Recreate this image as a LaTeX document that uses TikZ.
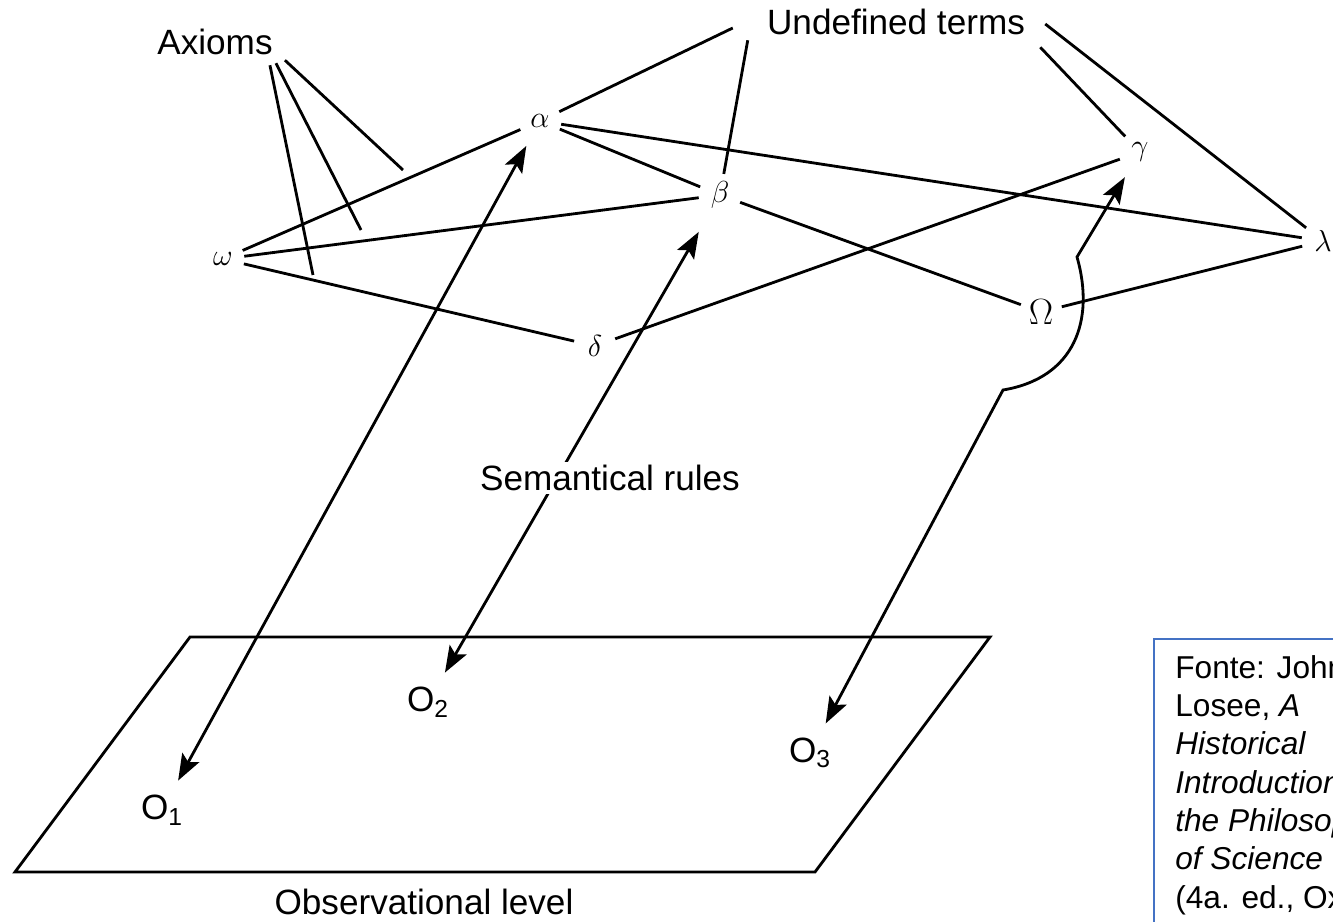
\documentclass[tikz,border=0pt]{standalone}
\usepackage[no-math]{fontspec}
\setmainfont{Liberation Sans}
\usepackage{xcolor}
\usetikzlibrary{arrows.meta}
\definecolor{capblue}{RGB}{68,114,196}

\begin{document}
\begin{tikzpicture}[
    x=0.02cm, y=-0.02cm,
    term/.style={circle, inner sep=0pt, minimum size=24pt, font=\fontsize{17.28}{20}\selectfont},
    heading/.style={inner sep=0pt, font=\fontsize{20}{24}\selectfont},
    obs/.style={inner sep=8pt, font=\fontsize{20}{24}\selectfont},
    link/.style={line width=1.6pt},
    semrule/.style={link, {Stealth[length=15pt,width=11pt,inset=3pt]}-{Stealth[length=15pt,width=11pt,inset=3pt]}}
]
    \useasboundingbox (0,0) rectangle (1333,922);

    % Headings
    \node (axioms) [heading] at (215,42) {Axioms};
    \node (undef) [heading] at (896,22) {Undefined terms};

    % Terms
    \node (alpha) [term] at (540,121) {$\alpha$};
    \node (beta) [term] at (720,195) {$\beta$};
    \node (gamma) [term] at (1140,152) {$\gamma$};
    \node (delta) [term] at (595,346) {$\delta$};
    \node (omega) [term] at (223,259) {$\omega$};
    \node (bigomega) [term, font=\fontsize{20.74}{24}\selectfont] at (1041,312) {$\Omega$};
    \node (lambda) [term] at (1323,241) {$\lambda$};

    % Observational plane
    \draw [link] (190,637) -- (990,637) -- (815,872) -- (15,872) -- cycle;
    \node (o1) [obs] at (162,810) {O\textsubscript{1}};
    \node (o2) [obs] at (428,702) {O\textsubscript{2}};
    \node (o3) [obs] at (810,753) {O\textsubscript{3}};
    \node (obslevel) [heading] at (424,902) {Observational level};

    % Undefined terms
    \draw [link] (alpha) -- ([shift={(-34,6)}]undef.west);
    \draw [link] ([shift={(-19,5)}]undef.south west) -- (beta);
    \draw [link] ([shift={(15,12)}]undef.south east) -- (gamma);
    \draw [link] ([shift={(20,2)}]undef.east) -- (lambda);

    % Axioms
    \coordinate (ax1) at (313,275);
    \coordinate (ax2) at (361,230);
    \coordinate (ax3) at (403,170);
    \draw [link] ([shift={(-3,10)}]axioms.south east) -- (ax1);
    \draw [link] ([shift={(3,8)}]axioms.south east) -- (ax2);
    \draw [link] ([shift={(12,5)}]axioms.south east) -- (ax3);

    % Links between terms
    \draw [link] (alpha) -- (lambda);
    \draw [link] (alpha) -- (beta);
    \draw [link] (omega) -- (alpha);
    \draw [link] (omega) -- (beta);
    \draw [link] (omega) -- (delta);
    \draw [link] (delta) -- (gamma);
    \draw [link] (beta) -- (bigomega);
    \draw [link] (bigomega) -- (lambda);

    % Semantical rules
    \coordinate (bendlow) at (1003,390);
    \coordinate (bendhigh) at (1077,257);
    \draw [semrule, shorten <=4pt] (alpha) -- (o1);
    \draw [semrule, shorten <=12pt] (beta) -- (o2);
    \draw [semrule, shorten >=4.5pt] (o3) -- (bendlow)
        .. controls (1075,378) and (1095,320) .. (bendhigh) -- (gamma);
    \node (semantic) [heading, fill=white, inner sep=2pt] at (610,478) {Semantical rules};

    % Source box
    \begin{scope}
        \clip (1152,637) rectangle (1333,922);
        \draw [capblue, line width=1.2pt] (1154,639) rectangle (1400,1000);
        \node (source) [anchor=north west, inner sep=0pt, align=left,
            font=\fontsize{18}{21.8}\selectfont] at (1175,655)
            {Fonte: John\\Losee, \textit{A}\\\textit{Historical}\\\textit{Introduction}\\\textit{the Philosophy}\\\textit{of Science}\\(4a. ed., Oxford};
    \end{scope}
\end{tikzpicture}
\end{document}
